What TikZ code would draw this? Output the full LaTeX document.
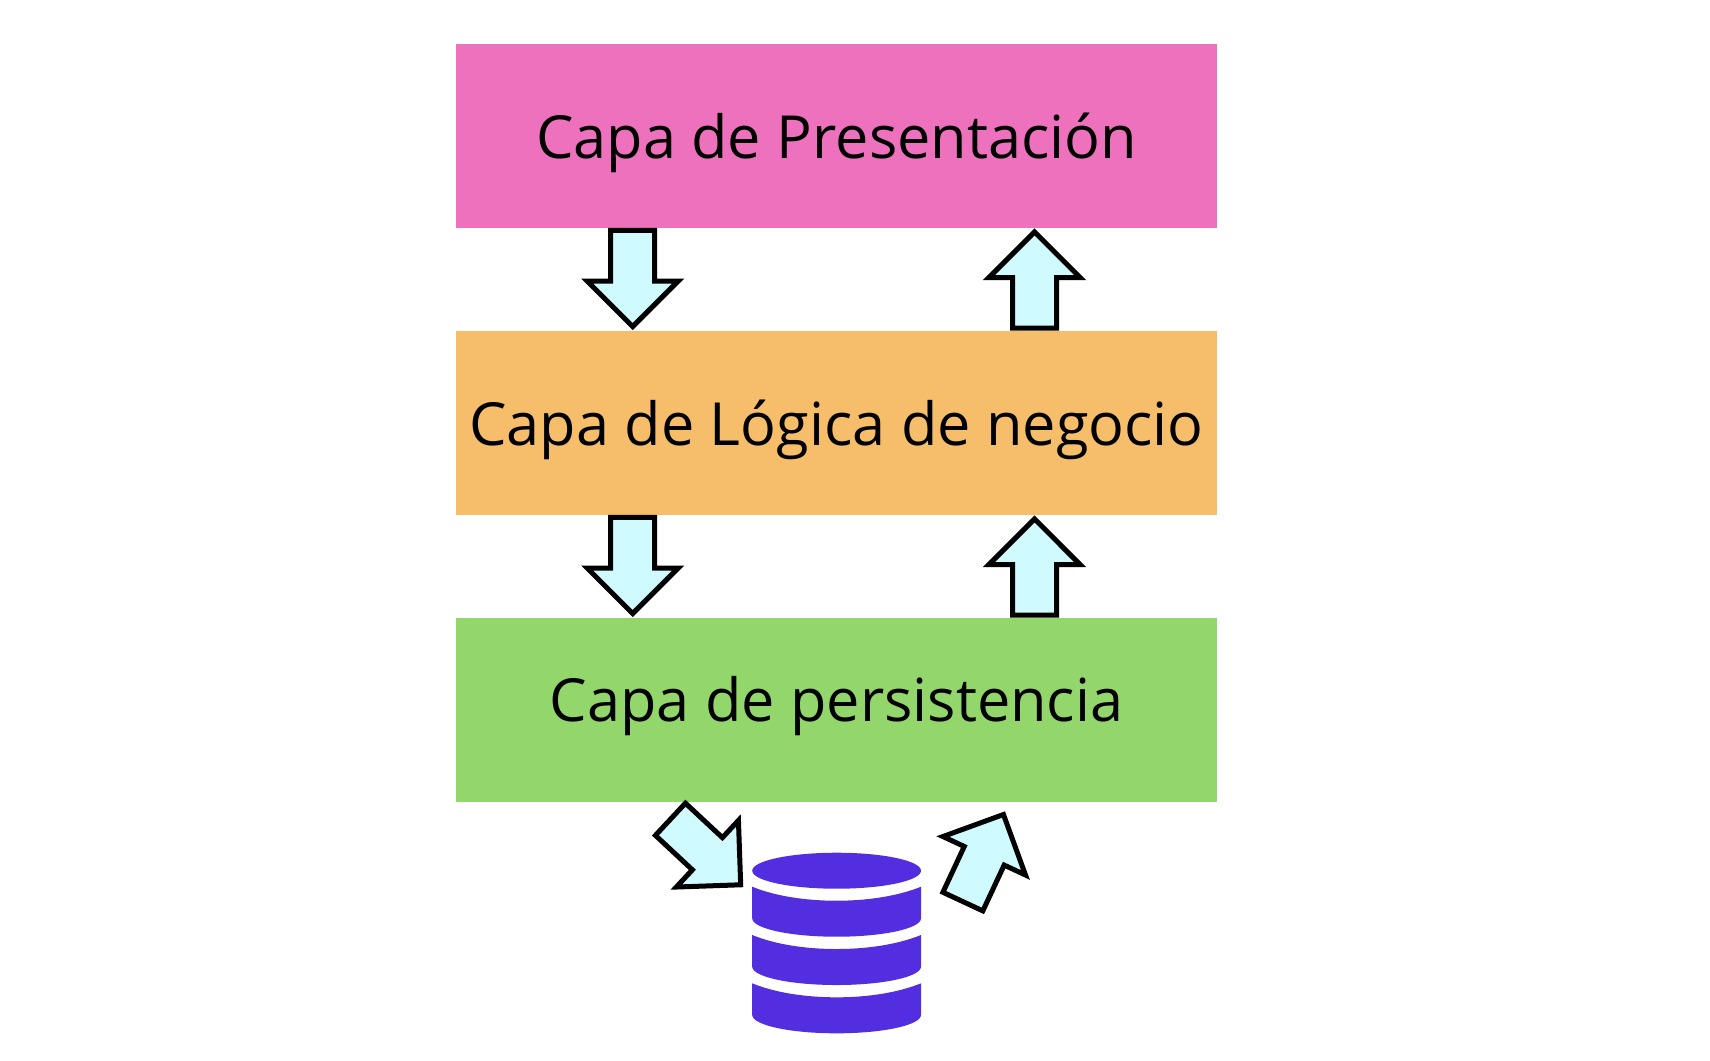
\documentclass[tikz,border=0pt]{standalone}
\usepackage{fontspec}
\setmainfont{Open Sans}
\usetikzlibrary{shapes.arrows}
\definecolor{rosaCapa}{HTML}{EE71BD}
\definecolor{naranjaCapa}{HTML}{F6BD6B}
\definecolor{verdeCapa}{HTML}{93D66B}
\definecolor{celeste}{HTML}{CFFAFF}
\definecolor{moradoBD}{HTML}{532DE0}
\begin{document}
\begin{tikzpicture}[x=0.01cm,y=-0.01cm,
capa/.style={minimum width=7.61cm,minimum height=1.84cm,inner sep=0pt,text height=0.44cm,text depth=0pt,font=\fontsize{16.9}{20}\selectfont},
flecha/.style={single arrow,draw=black,fill=celeste,line width=0.05cm,miter limit=10,minimum height=0.96cm,inner xsep=0pt,inner ysep=0.195cm,single arrow head extend=0.235cm,single arrow tip angle=90}]
\useasboundingbox (0,0) rectangle (1710,1060);

\node[capa,fill=rosaCapa] (presentacion) at (836.5,136) {Capa de Presentación};
\node[capa,fill=naranjaCapa] (logica) at (836.5,423) {Capa de Lógica de negocio};
\node[capa,fill=verdeCapa,text height=0.22cm] (persistencia) at (836.5,710) {Capa de persistencia};

\node[flecha,rotate=-90] (baja1) at (632.7,267.5) {};
\node[flecha,rotate=90] (sube1) at (1034.5,291) {};
\node[flecha,rotate=-90] (baja2) at (632.7,554.5) {};
\node[flecha,rotate=90] (sube2) at (1034.5,578) {};
\node[flecha,rotate=-43] (entra) at (697.5,844.5) {};
\node[flecha,rotate=65] (sale) at (978.5,868) {};

% base de datos
\fill[moradoBD] (836.6,870.7) ellipse (84.4 and 18);
\foreach \dy in {0,48.3,96.6}{
\fill[moradoBD] (752.2,886.7+\dy) .. controls (775,896+\dy) and (805,900.7+\dy) .. (836.6,900.7+\dy)
  .. controls (868,900.7+\dy) and (898,896+\dy) .. (921,886.7+\dy) -- (921,918.3+\dy)
  .. controls (921,928.5+\dy) and (883,936.7+\dy) .. (836.6,936.7+\dy)
  .. controls (790,936.7+\dy) and (752.2,928.5+\dy) .. (752.2,918.3+\dy) -- cycle;
}
\end{tikzpicture}
\end{document}
